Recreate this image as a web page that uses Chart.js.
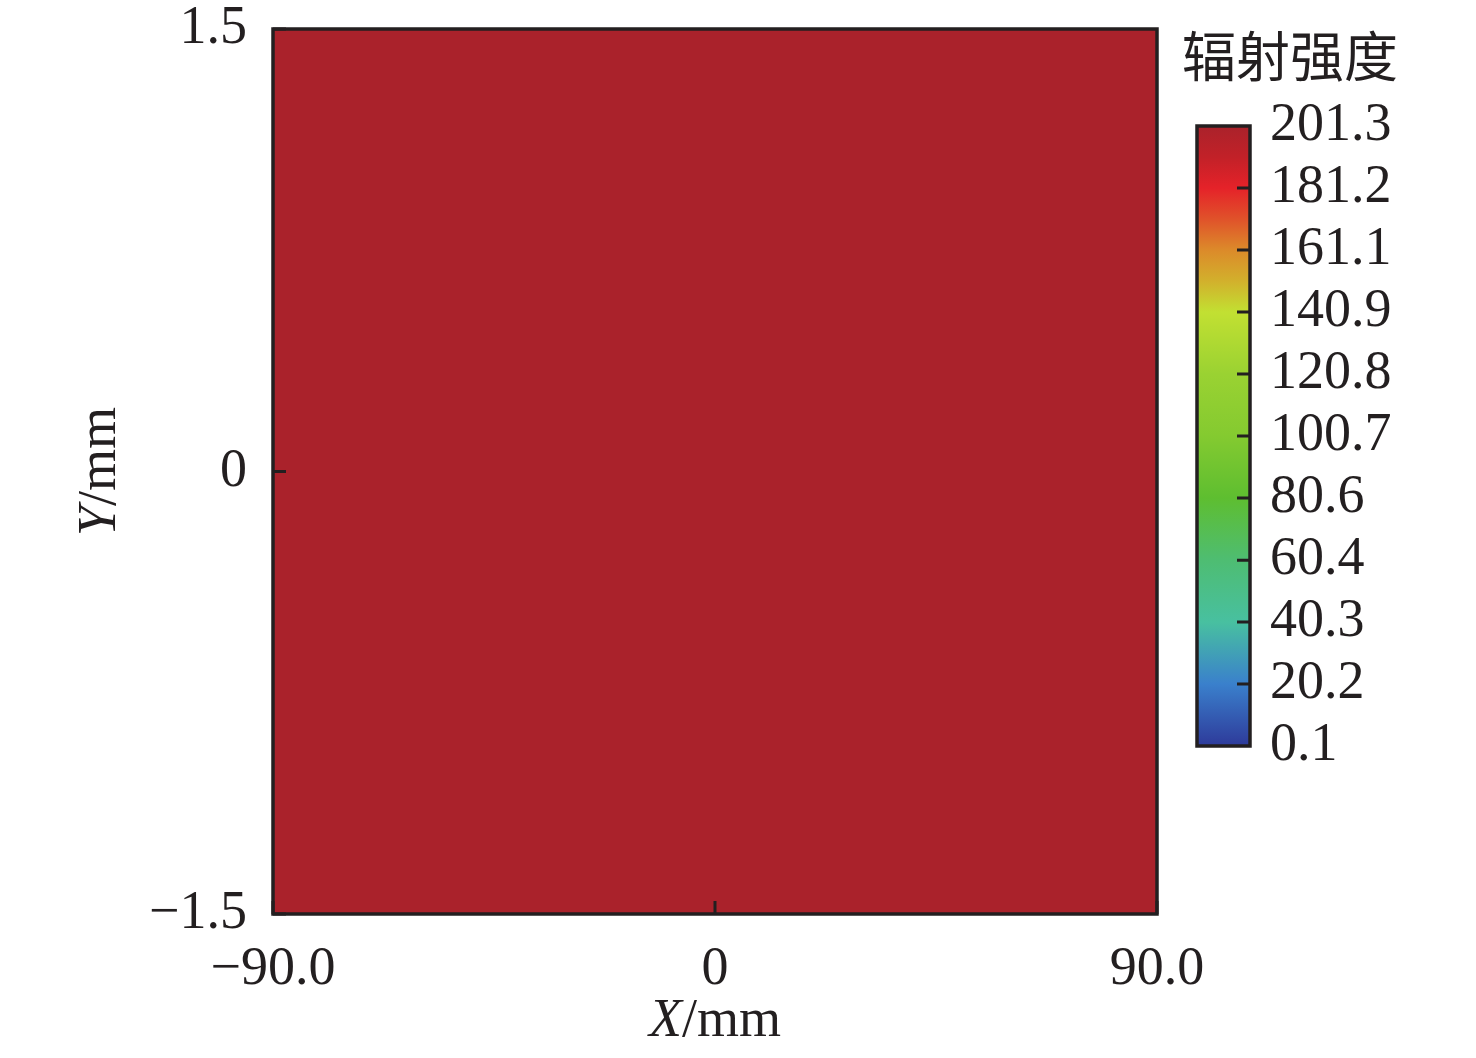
<!DOCTYPE html>
<html>
<head>
<meta charset="utf-8">
<script src="https://cdn.jsdelivr.net/npm/chart.js@4.4.1/dist/chart.umd.min.js"></script>
<style>
  html, body { margin: 0; padding: 0; background: #ffffff; }
  #wrap { position: relative; width: 1476px; height: 1058px; }
  #main { position: absolute; left: 0; top: 0; }
  #bar { position: absolute; left: 1160px; top: 0; }
</style>
</head>
<body>
<div id="wrap">
  <canvas id="main" width="1476" height="1058"></canvas>
  <canvas id="bar" width="316" height="1058"></canvas>
</div>
<script>
// 辐射强度分布 - 热力图 + 色条

const xEdges = [-90, -45, 0, 45, 90];
const yEdges = [-1.5, 0, 1.5];
// 每行对应 yEdges 的一个区间（从下到上），每列对应 xEdges 的一个区间
const intensity = [
    [201.3, 201.3, 201.3, 201.3],
    [201.3, 201.3, 201.3, 201.3]
];

const xTickVals = [-90, 0, 90];
const xTickLabels = ['\u221290.0', '0', '90.0'];
const yTickVals = [-1.5, 0, 1.5];
const yTickLabels = ['\u22121.5', '0', '1.5'];

const cbTickVals = [0.1, 20.2, 40.3, 60.4, 80.6, 100.7, 120.8, 140.9, 161.1, 181.2, 201.3];
const cbStopVals = [0.1, 20.2, 40.3, 60.4, 80.6, 100.7, 120.8, 140.9, 151.0, 161.1, 171.1, 181.2, 191.2, 201.3];
const cbStopColors = ['#2e3a9a', '#3a80cc', '#48c0a0', '#4ebd72', '#5ebe30', '#84ca30', '#9ad232', '#c2e032',
                      '#d2b02c', '#dc8a2a', '#e0522a', '#e52229', '#c22128', '#aa222b'];

const textColor = '#231f20';
const serif = '"Liberation Serif", "Times New Roman", serif';

function hexToRgb(h) {
    return [parseInt(h.slice(1, 3), 16), parseInt(h.slice(3, 5), 16), parseInt(h.slice(5, 7), 16)];
}

function colorFor(v) {
    if (v <= cbStopVals[0]) return cbStopColors[0];
    for (let i = 1; i < cbStopVals.length; i++) {
        if (v <= cbStopVals[i]) {
            const t = (v - cbStopVals[i - 1]) / (cbStopVals[i] - cbStopVals[i - 1]);
            const a = hexToRgb(cbStopColors[i - 1]);
            const b = hexToRgb(cbStopColors[i]);
            const c = a.map((x, k) => Math.round(x + (b[k] - x) * t));
            return `rgb(${c[0]}, ${c[1]}, ${c[2]})`;
        }
    }
    return cbStopColors[cbStopColors.length - 1];
}

// 斜体变量名 + 正体单位，例如 "X" + "/mm"
function drawAxisTitle(ctx, varName, unit, cx, cy, rotation) {
    ctx.save();
    ctx.translate(cx, cy);
    ctx.rotate(rotation);
    ctx.fillStyle = textColor;
    ctx.textBaseline = 'middle';
    ctx.textAlign = 'left';
    const italic = 'italic 54px ' + serif;
    const normal = '54px ' + serif;
    ctx.font = italic;
    const w1 = ctx.measureText(varName).width;
    ctx.font = normal;
    const w2 = ctx.measureText(unit).width;
    const x0 = -(w1 + w2) / 2;
    ctx.font = italic;
    ctx.fillText(varName, x0, 0);
    ctx.font = normal;
    ctx.fillText(unit, x0 + w1, 0);
    ctx.restore();
}

// 热力图单元格 + 边框 + 内向刻度 + 坐标轴标题
const heatmapPlugin = {
    id: 'heatmap',
    beforeDatasetsDraw(chart) {
        const ctx = chart.ctx;
        const xs = chart.scales.x;
        const ys = chart.scales.y;
        ctx.save();
        for (let r = 0; r < yEdges.length - 1; r++) {
            for (let c = 0; c < xEdges.length - 1; c++) {
                const x0 = Math.floor(xs.getPixelForValue(xEdges[c]));
                const x1 = Math.ceil(xs.getPixelForValue(xEdges[c + 1]));
                const y0 = Math.floor(ys.getPixelForValue(yEdges[r + 1]));
                const y1 = Math.ceil(ys.getPixelForValue(yEdges[r]));
                ctx.fillStyle = colorFor(intensity[r][c]);
                ctx.fillRect(x0, y0, x1 - x0 + 1, y1 - y0 + 1);
            }
        }
        ctx.restore();
    },
    afterDatasetsDraw(chart) {
        const ctx = chart.ctx;
        const a = chart.chartArea;
        const xs = chart.scales.x;
        const ys = chart.scales.y;
        ctx.save();
        ctx.strokeStyle = textColor;
        ctx.lineWidth = 3.5;
        ctx.strokeRect(a.left, a.top, a.right - a.left, a.bottom - a.top);
        ctx.lineWidth = 3;
        ctx.beginPath();
        xTickVals.forEach(v => {
            const px = xs.getPixelForValue(v);
            ctx.moveTo(px, a.bottom);
            ctx.lineTo(px, a.bottom - 13);
        });
        yTickVals.forEach(v => {
            const py = ys.getPixelForValue(v);
            ctx.moveTo(a.left, py);
            ctx.lineTo(a.left + 13, py);
        });
        ctx.stroke();
        ctx.restore();

        drawAxisTitle(ctx, 'X', '/mm', (a.left + a.right) / 2, 1022, 0);
        drawAxisTitle(ctx, 'Y', '/mm', 101, (a.top + a.bottom) / 2, -Math.PI / 2);
    }
};

new Chart(document.getElementById('main').getContext('2d'), {
    type: 'scatter',
    data: { datasets: [{ data: [] }] },
    options: {
        responsive: false,
        animation: false,
        layout: { padding: { top: 29, right: 319, left: 0, bottom: 0 } },
        plugins: { legend: { display: false }, tooltip: { enabled: false } },
        scales: {
            x: {
                type: 'linear',
                min: -90,
                max: 90,
                grid: { display: false },
                border: { display: false },
                afterFit: s => { s.height = 144; s.paddingLeft = 0; s.paddingRight = 0; },
                afterBuildTicks: s => { s.ticks = xTickVals.map(v => ({ value: v })); },
                ticks: {
                    color: textColor,
                    padding: 15,
                    maxRotation: 0,
                    autoSkip: false,
                    font: { family: serif, size: 54 },
                    callback: (v) => xTickLabels[xTickVals.indexOf(v)]
                }
            },
            y: {
                type: 'linear',
                min: -1.5,
                max: 1.5,
                grid: { display: false },
                border: { display: false },
                afterFit: s => { s.width = 273; s.paddingTop = 0; s.paddingBottom = 0; },
                afterBuildTicks: s => { s.ticks = yTickVals.map(v => ({ value: v })); },
                ticks: {
                    color: textColor,
                    padding: 18,
                    autoSkip: false,
                    font: { family: serif, size: 54 },
                    callback: (v) => yTickLabels[yTickVals.indexOf(v)]
                }
            }
        }
    },
    plugins: [heatmapPlugin]
});

// 色条
const colorbarPlugin = {
    id: 'colorbar',
    afterDatasetsDraw(chart) {
        const ctx = chart.ctx;
        const a = chart.chartArea;
        const ys = chart.scales.y;
        ctx.save();
        ctx.strokeStyle = textColor;
        ctx.lineWidth = 3.5;
        ctx.strokeRect(a.left, a.top, a.right - a.left, a.bottom - a.top);
        ctx.lineWidth = 3;
        ctx.beginPath();
        cbTickVals.slice(1, -1).forEach(v => {
            const py = ys.getPixelForValue(v);
            ctx.moveTo(a.right, py);
            ctx.lineTo(a.right - 13, py);
        });
        ctx.stroke();
        ctx.fillStyle = textColor;
        ctx.font = '54px "Noto Sans CJK SC"';
        ctx.textAlign = 'center';
        ctx.textBaseline = 'middle';
        ctx.fillText('辐射强度', 130, 56);
        ctx.restore();
    }
};

new Chart(document.getElementById('bar').getContext('2d'), {
    type: 'bar',
    data: {
        labels: ['辐射强度'],
        datasets: [{
            data: [[cbTickVals[0], cbTickVals[cbTickVals.length - 1]]],
            borderWidth: 0,
            barPercentage: 1,
            categoryPercentage: 1,
            backgroundColor: function(context) {
                const chart = context.chart;
                const area = chart.chartArea;
                if (!area) return null;
                const ys = chart.scales.y;
                const g = chart.ctx.createLinearGradient(0, area.bottom, 0, area.top);
                cbStopVals.forEach((v, i) => {
                    const f = (area.bottom - ys.getPixelForValue(v)) / (area.bottom - area.top);
                    g.addColorStop(Math.min(1, Math.max(0, f)), cbStopColors[i]);
                });
                return g;
            }
        }]
    },
    options: {
        responsive: false,
        animation: false,
        layout: { padding: { top: 126, left: 37, bottom: 312, right: 0 } },
        plugins: { legend: { display: false }, tooltip: { enabled: false } },
        scales: {
            x: { display: false },
            y: {
                position: 'right',
                min: cbTickVals[0],
                max: cbTickVals[cbTickVals.length - 1],
                grid: { display: false },
                border: { display: false },
                afterFit: s => { s.width = 226; s.paddingTop = 0; s.paddingBottom = 0; },
                afterBuildTicks: s => { s.ticks = cbTickVals.map(v => ({ value: v })); },
                ticks: {
                    color: textColor,
                    padding: 12,
                    autoSkip: false,
                    font: { family: serif, size: 54 },
                    callback: (v) => v.toFixed(1)
                }
            }
        }
    },
    plugins: [colorbarPlugin]
});
</script>
</body>
</html>
